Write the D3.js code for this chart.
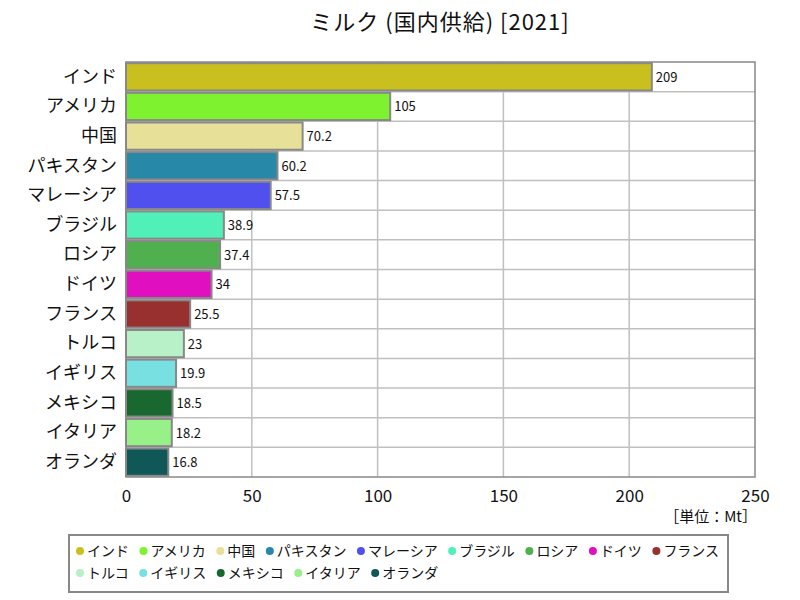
<!DOCTYPE html>
<html><head><meta charset="utf-8">
<script src="https://cdn.jsdelivr.net/npm/d3@7"></script>
<style>body{margin:0;background:#fff;font-family:"Noto Sans CJK JP","Noto Sans",sans-serif;}</style>
</head><body><svg id="c" width="800" height="600"></svg>
<script>
const categories = ["インド","アメリカ","中国","パキスタン","マレーシア","ブラジル","ロシア","ドイツ","フランス","トルコ","イギリス","メキシコ","イタリア","オランダ"];
const values = [209,105,70.2,60.2,57.5,38.9,37.4,34,25.5,23,19.9,18.5,18.2,16.8];
const valueLabels = ["209","105","70.2","60.2","57.5","38.9","37.4","34","25.5","23","19.9","18.5","18.2","16.8"];
const colors = ["#c9c01f","#7ef22f","#e6e098","#2888a8","#5050ee","#50f0b8","#50b050","#e010c0","#983030","#b8f0c8","#78e0e0","#186830","#98f088","#105858"];
const xTicks = [0,50,100,150,200,250];
const title = "ミルク (国内供給) [2021]";
const unit = "［単位：Mt］";

const svg = d3.select("#c");
const font = '"Noto Sans CJK JP","Noto Sans",sans-serif';
const numFont = '"Noto Sans CJK JP","Noto Sans",sans-serif';
const L = 126, R = 755, T = 62, B = 477;
const x = d3.scaleLinear().domain([0,250]).range([L,R]);
const y = d3.scaleBand().domain(categories).range([T,B]).paddingInner(0.08).paddingOuter(0.04);

svg.append("text").attr("x",440).attr("y",30).attr("text-anchor","middle")
  .attr("font-family",font).attr("font-size",22).attr("letter-spacing",1).attr("fill","#111").text(title);

svg.append("rect").attr("x",L).attr("y",T).attr("width",R-L).attr("height",B-T).attr("fill","#fff");

svg.append("g").selectAll("line").data(xTicks.slice(1,-1)).join("line")
  .attr("x1",d=>x(d)).attr("x2",d=>x(d)).attr("y1",T).attr("y2",B)
  .attr("stroke","#c0c0c0").attr("stroke-width",1.5);
const step = (B-T)/categories.length;
svg.append("g").selectAll("line").data(d3.range(1,categories.length)).join("line")
  .attr("x1",L).attr("x2",R).attr("y1",i=>T+i*step).attr("y2",i=>T+i*step)
  .attr("stroke","#c0c0c0").attr("stroke-width",1.5);

svg.append("g").selectAll("rect").data(categories).join("rect")
  .attr("x",x(0)).attr("y",d=>y(d)).attr("width",(d,i)=>x(values[i])-x(0)).attr("height",y.bandwidth())
  .attr("fill",(d,i)=>colors[i]).attr("stroke","#888").attr("stroke-width",2);

svg.append("g").selectAll("text").data(categories).join("text")
  .attr("x",(d,i)=>x(values[i])+4).attr("y",d=>y(d)+y.bandwidth()/2+5)
  .attr("font-family",numFont).attr("font-size",13).attr("fill","#111")
  .text((d,i)=>valueLabels[i]);

svg.append("rect").attr("x",L).attr("y",T).attr("width",R-L).attr("height",B-T)
  .attr("fill","none").attr("stroke","#888").attr("stroke-width",1.5);

const yAxis = d3.axisLeft(y).tickSize(0).tickPadding(9);
const gy = svg.append("g").attr("transform",`translate(${L},0)`).call(yAxis);
gy.select(".domain").remove();
gy.selectAll("text").attr("font-family",font).attr("font-size",18).attr("fill","#111");

const xAxis = d3.axisBottom(x).tickValues(xTicks).tickSize(0).tickPadding(13).tickFormat(d3.format("d"));
const gx = svg.append("g").attr("transform",`translate(0,${B})`).call(xAxis);
gx.select(".domain").remove();
gx.selectAll("text").attr("font-family",numFont).attr("font-size",17).attr("fill","#111");

svg.append("text").attr("x",R+2).attr("y",522).attr("text-anchor","end")
  .attr("font-family",font).attr("font-size",15).attr("fill","#111").text(unit);

svg.append("rect").attr("x",69).attr("y",535).attr("width",659).attr("height",57)
  .attr("fill","#fff").attr("stroke","#888").attr("stroke-width",2);
const row1 = 9;
const lg = svg.append("g");
let cx = 80, cy = 551;
categories.forEach((c,i)=>{
  if(i===row1){cx=80;cy=573;}
  lg.append("circle").attr("cx",cx).attr("cy",cy).attr("r",4).attr("fill",colors[i]);
  const t = lg.append("text").attr("x",cx+7).attr("y",cy+5).attr("font-family",font)
    .attr("font-size",14).attr("fill","#111").text(c);
  cx += t.node().getComputedTextLength()+21.5;
});
</script></body></html>
